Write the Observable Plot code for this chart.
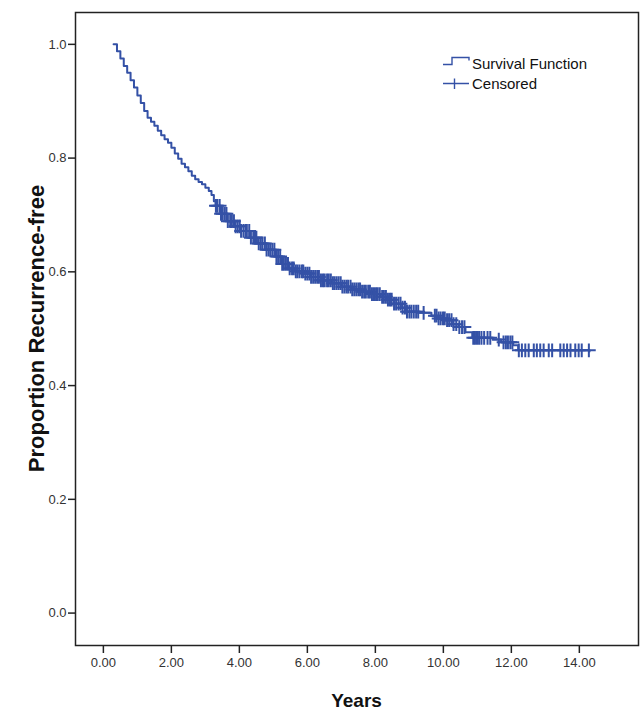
<!DOCTYPE html>
<html>
<head>
<meta charset="utf-8">
<script src="https://cdn.jsdelivr.net/npm/d3@7"></script>
<script src="https://cdn.jsdelivr.net/npm/@observablehq/plot@0.6"></script>
<style>
  body { margin: 0; background: #ffffff; }
  svg { display: block; }
</style>
</head>
<body>
<div id="chart"></div>
<script>
// ---- Data ----
const survTimes = [0.30, 0.40, 0.50, 0.60, 0.70, 0.80, 0.90, 1.00, 1.10, 1.20, 1.30, 1.40, 1.50, 1.60, 1.70, 1.80, 1.90, 2.00,
  2.10, 2.20, 2.30, 2.40, 2.50, 2.60, 2.70, 2.80, 2.90, 3.00, 3.10, 3.18, 3.25, 3.30,
  3.45, 3.65, 3.85, 4.05, 4.30, 4.55, 4.80, 5.05, 5.25, 5.45, 5.65, 5.90, 6.10, 6.40, 6.70, 7.00, 7.30, 7.60, 7.90, 8.15,
  8.35, 8.55, 8.75, 8.90, 9.30, 9.65, 9.85, 10.05, 10.25, 10.45, 10.65, 10.85, 11.45, 11.70, 12.05, 12.20, 14.30];
const survValues = [1.000, 0.988, 0.975, 0.962, 0.950, 0.937, 0.924, 0.910, 0.897, 0.883, 0.871, 0.864, 0.857, 0.848, 0.840, 0.833, 0.827, 0.818,
  0.808, 0.799, 0.790, 0.784, 0.777, 0.769, 0.763, 0.758, 0.754, 0.748, 0.742, 0.735, 0.724, 0.716,
  0.702, 0.689, 0.680, 0.672, 0.660, 0.650, 0.639, 0.627, 0.614, 0.606, 0.601, 0.597, 0.591, 0.585, 0.580, 0.574, 0.569, 0.565, 0.561, 0.556,
  0.551, 0.544, 0.537, 0.530, 0.528, 0.523, 0.518, 0.515, 0.508, 0.503, 0.494, 0.484, 0.481, 0.476, 0.471, 0.462, 0.460];
const censorTimes = [3.31, 3.35, 3.42, 3.46, 3.51, 3.57, 3.62, 3.66, 3.73, 3.78, 3.84, 3.89, 3.95, 4.01, 4.05, 4.12, 4.18, 4.22,
  4.29, 4.34, 4.41, 4.46, 4.50, 4.57, 4.63, 4.68, 4.75, 4.80, 4.86, 4.91, 4.97, 5.03, 5.09, 5.14, 5.20, 5.26, 5.31, 5.37, 5.43,
  5.48, 5.55, 5.60, 5.66, 5.71, 5.77, 5.84, 5.88, 5.94, 6.00, 6.06, 6.11, 6.17, 6.23, 6.29, 6.34, 6.40, 6.46, 6.51, 6.58, 6.63,
  6.69, 6.75, 6.80, 6.86, 6.92, 6.98, 7.03, 7.09, 7.15, 7.20, 7.27, 7.32, 7.38, 7.44, 7.50, 7.55, 7.61, 7.67, 7.72, 7.79, 7.84,
  7.90, 7.96, 8.02, 8.07, 8.13, 8.20, 8.25, 8.31, 8.37, 8.43, 8.48, 8.55, 8.61, 8.68, 8.74, 8.80, 8.87, 8.93, 9.00, 9.06, 9.13,
  9.20, 9.26, 9.42, 9.75, 9.80, 9.86, 9.92, 9.99, 10.04, 10.11, 10.17, 10.24, 10.30, 10.38, 10.47, 10.55, 10.62, 10.88, 10.93,
  10.99, 11.05, 11.12, 11.20, 11.30, 11.38, 11.63, 11.77, 11.84, 11.90, 11.97, 12.03, 12.22, 12.31, 12.41, 12.51, 12.66, 12.75,
  12.85, 12.95, 13.10, 13.20, 13.44, 13.54, 13.64, 13.74, 13.88, 13.98, 14.07, 14.28];
const xTicks = [0, 2, 4, 6, 8, 10, 12, 14];
const yTicks = [0.0, 0.2, 0.4, 0.6, 0.8, 1.0];
const seriesNames = ["Survival Function", "Censored"];
const xTitle = "Years";
const yTitle = "Proportion Recurrence-free";

// ---- Derived tables ----
const curve = survTimes.map((t, i) => ({t, s: survValues[i]}));
const bis = d3.bisector(d => d.t).right;
const censored = censorTimes.map(t => ({t, s: curve[Math.max(0, bis(curve, t) - 1)].s}));

const blue = "#3451a6";
const font = "'Liberation Sans', Arial, sans-serif";

const plot = Plot.plot({
  width: 640,
  height: 712,
  marginLeft: 75,
  marginRight: 2,
  marginTop: 12,
  marginBottom: 67,
  style: {fontFamily: font, fontSize: "13px", background: "#ffffff", color: "#222"},
  x: {domain: [-0.82, 15.74], label: null},
  y: {domain: [-0.057, 1.056], label: null},
  marks: [
    Plot.axisX({ticks: xTicks, tickFormat: d => d.toFixed(2), tickSize: 8, tickPadding: 4, label: null, stroke: "#222", strokeWidth: 1.5, fill: "#333"}),
    Plot.axisY({ticks: yTicks, tickFormat: d => d.toFixed(1), tickSize: 7, tickPadding: 2, label: null, stroke: "#222", strokeWidth: 1.5, fill: "#333"}),
    Plot.frame({stroke: "#222", strokeWidth: 1.5}),
    Plot.line(curve, {x: "t", y: "s", curve: "step-after", stroke: blue, strokeWidth: 2}),
    Plot.dot(censored, {x: "t", y: "s", symbol: "plus", r: 4.5, stroke: blue, strokeWidth: 2})
  ]
});

document.getElementById("chart").appendChild(plot);

// ---- Titles and legend ----
const svg = d3.select(plot);
const xr = plot.scale("x").range;
const yr = plot.scale("y").range;
const xMid = (xr[0] + xr[1]) / 2;
const yMid = (yr[0] + yr[1]) / 2;

svg.append("text")
  .attr("x", xMid).attr("y", 707)
  .attr("text-anchor", "middle")
  .attr("font-family", font).attr("font-weight", "bold").attr("font-size", 19)
  .attr("fill", "#111")
  .text(xTitle);

svg.append("text")
  .attr("transform", `translate(44,${yMid}) rotate(-90)`)
  .attr("text-anchor", "middle")
  .attr("font-family", font).attr("font-weight", "bold").attr("font-size", 22)
  .attr("fill", "#111")
  .text(yTitle);

const lg = svg.append("g").attr("font-family", font).attr("font-size", 15).attr("fill", "#111").attr("text-anchor", "start");
lg.append("path")
  .attr("d", "M443,64.5H452V57.5H469V60.5")
  .attr("fill", "none").attr("stroke", blue).attr("stroke-width", 1.4);
lg.append("text").attr("x", 472).attr("y", 68.5).attr("text-anchor", "start").text(seriesNames[0]);
lg.append("path")
  .attr("d", "M443,83.5H469M454.5,78.5V89")
  .attr("fill", "none").attr("stroke", blue).attr("stroke-width", 1.4);
lg.append("text").attr("x", 472).attr("y", 89).attr("text-anchor", "start").text(seriesNames[1]);
</script>
</body>
</html>
